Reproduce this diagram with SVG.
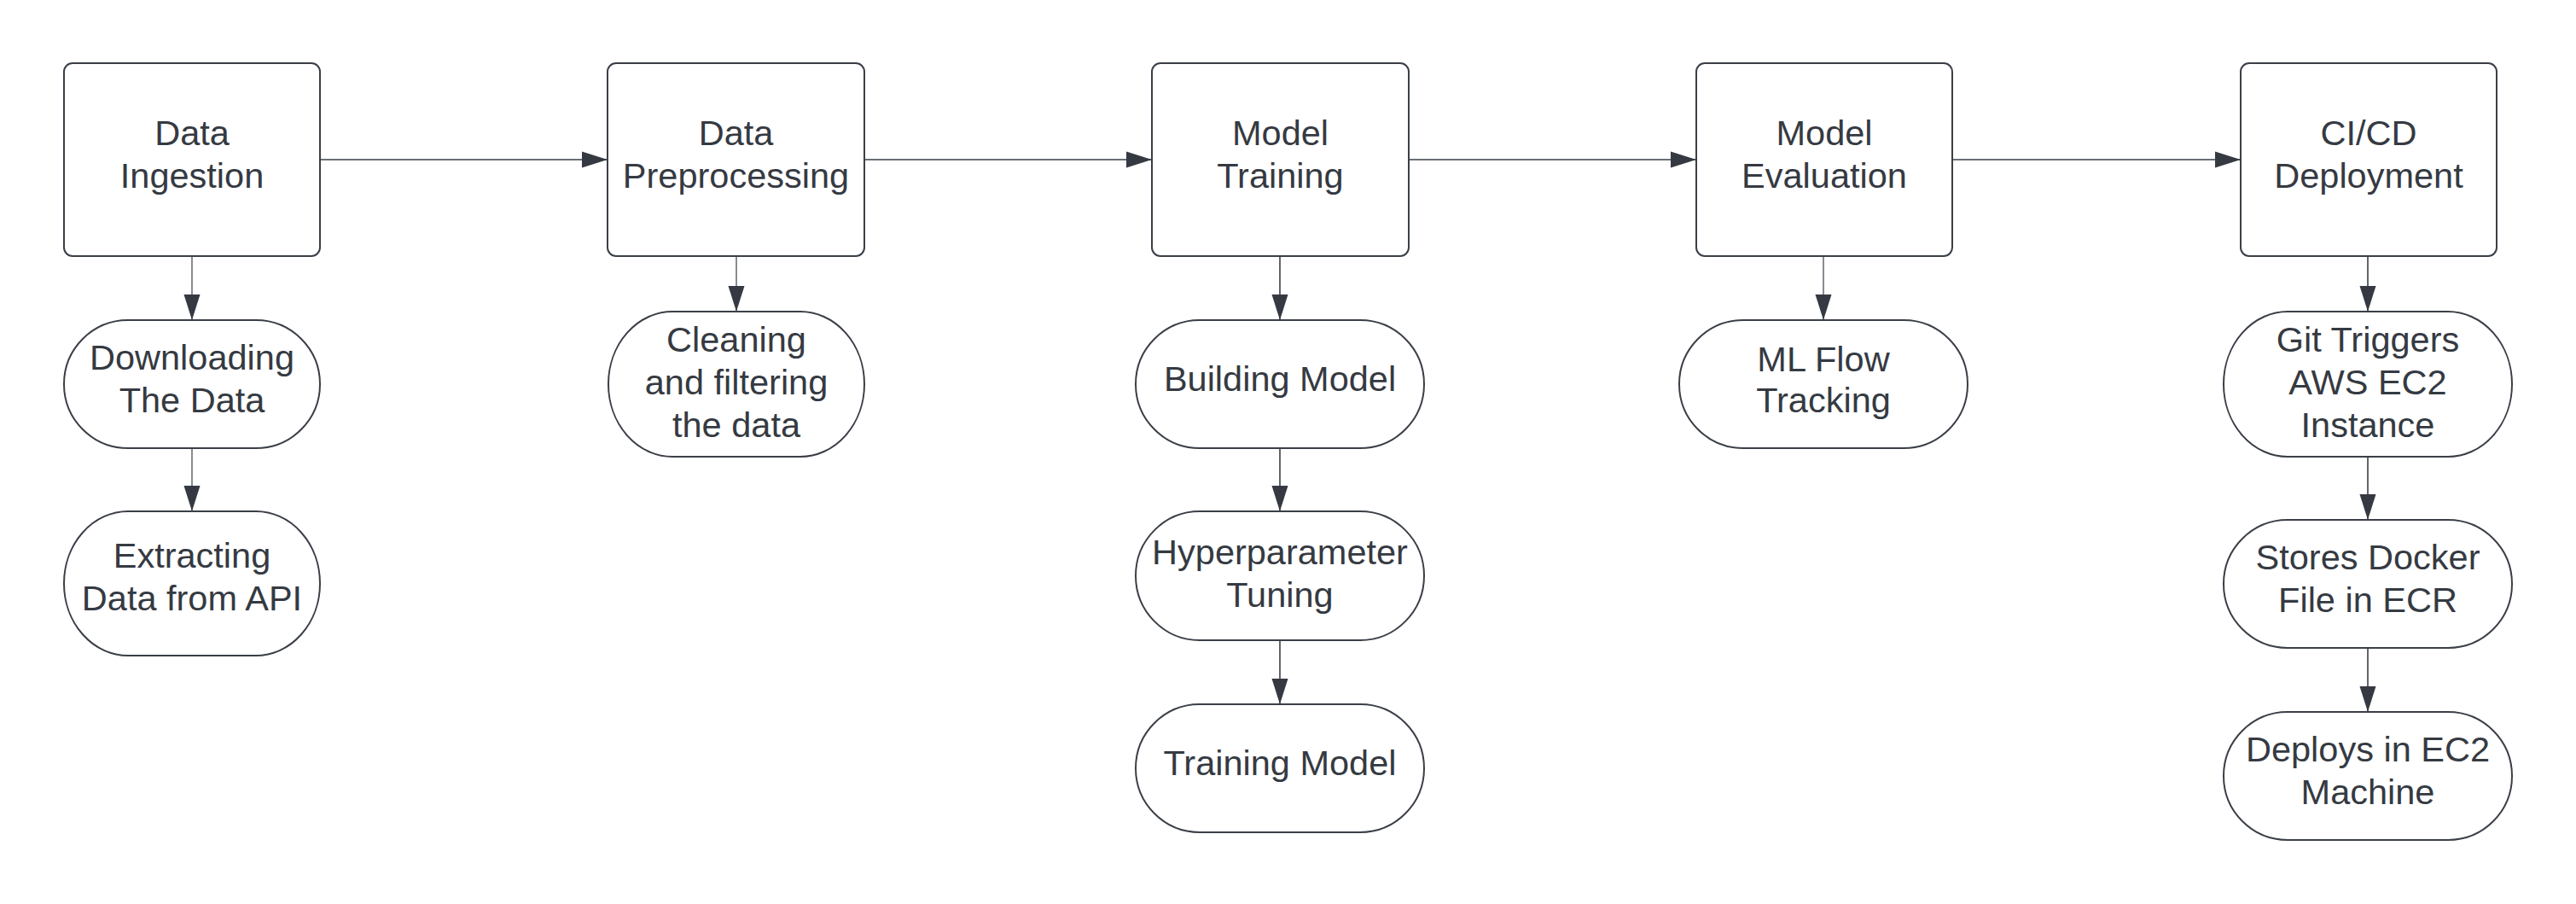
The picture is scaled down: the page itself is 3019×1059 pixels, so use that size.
<svg xmlns="http://www.w3.org/2000/svg" width="3019" height="1059" viewBox="0 0 3019 1059">
<style>
.box{fill:#ffffff;stroke:#3a3f47;stroke-width:2}
.t{font-family:"Liberation Sans",Arial,sans-serif;font-size:41.5px;fill:#353a42;text-anchor:middle}
.c{fill:none;stroke:#3a3f47;stroke-width:1.6}
.c2{fill:none;stroke:#3a3f47;stroke-width:1.2}
</style>
<defs>
<marker id="ah" markerUnits="userSpaceOnUse" markerWidth="30" markerHeight="20" refX="30" refY="9.5" orient="auto" viewBox="0 0 30 19">
<path d="M0,0 L30,9.5 L0,19 Z" fill="#353a42"/>
</marker>
</defs>
<rect width="3019" height="1059" fill="#ffffff"/>
<g id="connectors">
<line class="c" x1="375" y1="187" x2="712" y2="187" marker-end="url(#ah)"/>
<line class="c" x1="1013" y1="187" x2="1350" y2="187" marker-end="url(#ah)"/>
<line class="c" x1="1651" y1="187" x2="1988" y2="187" marker-end="url(#ah)"/>
<line class="c" x1="2288" y1="187" x2="2626" y2="187" marker-end="url(#ah)"/>
<line class="c2" x1="225" y1="300" x2="225" y2="375" marker-end="url(#ah)"/>
<line class="c2" x1="225" y1="525" x2="225" y2="599" marker-end="url(#ah)"/>
<line class="c2" x1="863" y1="300" x2="863" y2="365" marker-end="url(#ah)"/>
<line class="c" x1="1500" y1="300" x2="1500" y2="375" marker-end="url(#ah)"/>
<line class="c" x1="1500" y1="525" x2="1500" y2="599" marker-end="url(#ah)"/>
<line class="c" x1="1500" y1="750" x2="1500" y2="825" marker-end="url(#ah)"/>
<line class="c2" x1="2137" y1="300" x2="2137" y2="375" marker-end="url(#ah)"/>
<line class="c" x1="2775" y1="300" x2="2775" y2="365" marker-end="url(#ah)"/>
<line class="c" x1="2775" y1="535" x2="2775" y2="609" marker-end="url(#ah)"/>
<line class="c" x1="2775" y1="759" x2="2775" y2="834" marker-end="url(#ah)"/>
</g>
<g id="data-ingestion">
<rect class="box" x="75" y="74" width="300" height="226" rx="10"/>
<text class="t" x="225" y="170">Data</text>
<text class="t" x="225" y="220">Ingestion</text>
</g>
<g id="data-preprocessing">
<rect class="box" x="712" y="74" width="301" height="226" rx="10"/>
<text class="t" x="862.5" y="170">Data</text>
<text class="t" x="862.5" y="220">Preprocessing</text>
</g>
<g id="model-training">
<rect class="box" x="1350" y="74" width="301" height="226" rx="10"/>
<text class="t" x="1500.5" y="170">Model</text>
<text class="t" x="1500.5" y="220">Training</text>
</g>
<g id="model-evaluation">
<rect class="box" x="1988" y="74" width="300" height="226" rx="10"/>
<text class="t" x="2138" y="170">Model</text>
<text class="t" x="2138" y="220">Evaluation</text>
</g>
<g id="cicd-deployment">
<rect class="box" x="2626" y="74" width="300" height="226" rx="10"/>
<text class="t" x="2776" y="170">CI/CD</text>
<text class="t" x="2776" y="220">Deployment</text>
</g>
<g id="downloading-data">
<rect class="box" x="75" y="375" width="300" height="150" rx="75" ry="75"/>
<text class="t" x="225" y="433">Downloading</text>
<text class="t" x="225" y="483">The Data</text>
</g>
<g id="extracting-data">
<rect class="box" x="75" y="599" width="300" height="169" rx="75" ry="84.5"/>
<text class="t" x="225" y="665">Extracting</text>
<text class="t" x="225" y="715">Data from API</text>
</g>
<g id="cleaning-data">
<rect class="box" x="713" y="365" width="300" height="170" rx="75" ry="85"/>
<text class="t" x="863" y="412">Cleaning</text>
<text class="t" x="863" y="462">and filtering</text>
<text class="t" x="863" y="512">the data</text>
</g>
<g id="building-model">
<rect class="box" x="1331" y="375" width="338" height="150" rx="75" ry="75"/>
<text class="t" x="1500" y="458">Building Model</text>
</g>
<g id="hyperparameter-tuning">
<rect class="box" x="1331" y="599" width="338" height="151" rx="75" ry="75.5"/>
<text class="t" x="1500" y="661">Hyperparameter</text>
<text class="t" x="1500" y="711">Tuning</text>
</g>
<g id="training-model">
<rect class="box" x="1331" y="825" width="338" height="150" rx="75" ry="75"/>
<text class="t" x="1500" y="908">Training Model</text>
</g>
<g id="ml-flow-tracking">
<rect class="box" x="1968" y="375" width="338" height="150" rx="75" ry="75"/>
<text class="t" x="2137" y="435">ML Flow</text>
<text class="t" x="2137" y="483">Tracking</text>
</g>
<g id="git-triggers">
<rect class="box" x="2606" y="365" width="338" height="170" rx="75" ry="85"/>
<text class="t" x="2775" y="412">Git Triggers</text>
<text class="t" x="2775" y="462">AWS EC2</text>
<text class="t" x="2775" y="512">Instance</text>
</g>
<g id="stores-docker">
<rect class="box" x="2606" y="609" width="338" height="150" rx="75" ry="75"/>
<text class="t" x="2775" y="667">Stores Docker</text>
<text class="t" x="2775" y="717">File in ECR</text>
</g>
<g id="deploys-ec2">
<rect class="box" x="2606" y="834" width="338" height="150" rx="75" ry="75"/>
<text class="t" x="2775" y="892">Deploys in EC2</text>
<text class="t" x="2775" y="942">Machine</text>
</g>
</svg>
